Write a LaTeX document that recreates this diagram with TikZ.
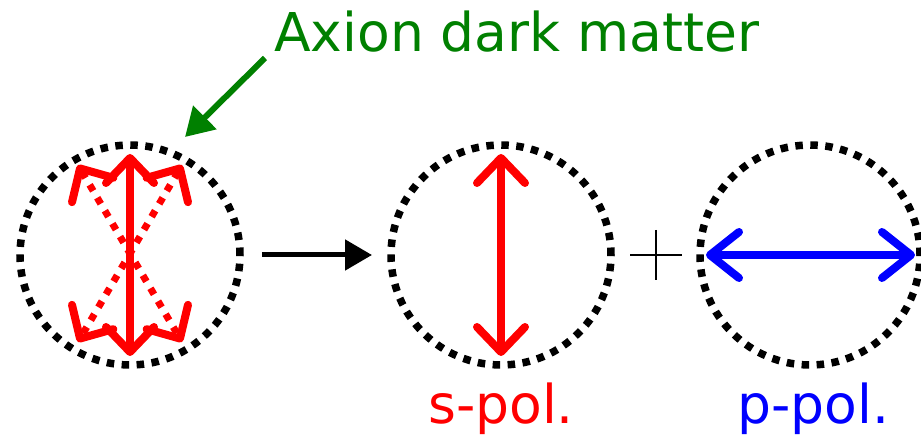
\documentclass[tikz,border=0pt]{standalone}
\usepackage{fontspec}
\setmainfont{DejaVu Sans}
\usetikzlibrary{arrows.meta}
\definecolor{axgreen}{RGB}{0,128,0}
\definecolor{pred}{RGB}{255,0,0}
\definecolor{pblue}{RGB}{0,0,255}
\tikzset{
  x=1pt,y=1pt,
  ring/.style={draw=black,line width=7.5pt,dash pattern=on 7.5pt off 7.5pt,circle,minimum size=220pt,inner sep=0pt},
  polred/.style={draw=pred,line width=8pt,line cap=round,{Straight Barb[round,length=25pt,width=48pt]}-{Straight Barb[round,length=25pt,width=48pt]}},
  poldot/.style={draw=pred,line width=7pt,dash pattern=on 7pt off 8pt,{Straight Barb[round,length=25pt,width=48pt,line width=8pt]}-{Straight Barb[round,length=25pt,width=48pt,line width=8pt]}},
  polblue/.style={draw=pblue,line width=8pt,line cap=round,{Straight Barb[round,length=29pt,width=46pt]}-{Straight Barb[round,length=29pt,width=46pt]}},
  lbl/.style={font=\fontsize{53.5}{60}\selectfont,inner sep=0pt,anchor=base west},
}
\begin{document}
\begin{tikzpicture}
\useasboundingbox (0,0) rectangle (921,436);
% circles
\node[ring] (c1) at (130,181) {};
\node[ring] (c2) at (501,181) {};
\node[ring] (c3) at (810,181) {};
% circle 1 contents
\coordinate (t1) at (130,282);
\coordinate (b1) at (130,80);
\coordinate (tl) at (78,271);
\coordinate (tr) at (182,271);
\coordinate (bl) at (78,94);
\coordinate (br) at (182,94);
\draw[poldot] (tl) -- (br);
\draw[poldot] (tr) -- (bl);
\draw[polred] (t1) -- (b1);
% circle 2 contents
\coordinate (t2) at (501,282);
\coordinate (b2) at (501,80);
\draw[polred] (t2) -- (b2);
% circle 3 contents
\coordinate (l3) at (706,181);
\coordinate (r3) at (915,181);
\draw[polblue] (l3) -- (r3);
% arrow between
\draw[line width=5pt,-{Triangle[length=27pt,width=30pt]}] (c1.east) ++(18,0) coordinate (a0) -- (372,181) coordinate (a1);
% plus sign
\coordinate (pc) at (656,181);
\draw[line width=2.5pt] (630,181) -- (682,181) (656,206) -- (656,156);
% title and arrow
\node[lbl,text=axgreen] (title) at (274,384) {Axion dark matter};
\coordinate (g0) at (265,378);
\coordinate (g1) at (185,299);
\draw[axgreen,line width=6pt,-{Triangle[length=28pt,width=32pt]}] (g0) -- (g1);
% labels
\node[lbl,text=pred] (slab) at (428,12) {s-pol.};
\node[lbl,text=pblue] (plab) at (737,12) {p-pol.};
\end{tikzpicture}
\end{document}
